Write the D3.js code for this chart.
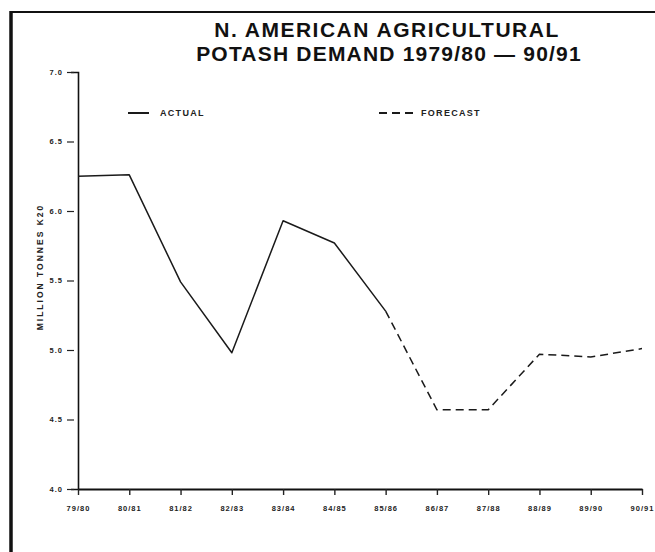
<!DOCTYPE html>
<html>
<head>
<meta charset="utf-8">
<script src="https://cdn.jsdelivr.net/npm/d3@7"></script>
<style>
  body { margin: 0; background: #fff; }
  svg { display: block; font-family: "Liberation Sans", Arial, Helvetica, sans-serif; }
</style>
</head>
<body>
<div id="chart"></div>
<script>
// crop years along the bottom
const years = ['79/80', '80/81', '81/82', '82/83', '83/84', '84/85', '85/86', '86/87', '87/88', '88/89', '89/90', '90/91'];
// demand, million tonnes K2O
const demand = [6.25, 6.26, 5.49, 4.98, 5.93, 5.77, 5.28, 4.57, 4.57, 4.97, 4.95, 5.01];
// last year that is actual, the rest is forecast
const lastActual = '85/86';
const yTicks = [4.0, 4.5, 5.0, 5.5, 6.0, 6.5, 7.0];

const width = 655, height = 552;
const margin = { left: 78, right: 13, top: 72, bottom: 63 };

const svg = d3.select('#chart')
  .append('svg')
  .attr('width', width)
  .attr('height', height);

// frame round the figure (only top + left show)
svg.append('line')
  .attr('x1', 11).attr('x2', width).attr('y1', 12).attr('y2', 12)
  .attr('stroke', '#111').attr('stroke-width', 2);
svg.append('line')
  .attr('x1', 11).attr('x2', 11).attr('y1', 11).attr('y2', height)
  .attr('stroke', '#111').attr('stroke-width', 3.5);

// title
const title = svg.append('text')
  .attr('text-anchor', 'middle')
  .attr('font-weight', 'bold')
  .attr('font-size', 21)
  .attr('fill', '#111');
title.append('tspan').attr('x', 387).attr('y', 37).attr('letter-spacing', 1.5).text('N. AMERICAN AGRICULTURAL');
title.append('tspan').attr('x', 389).attr('y', 61).attr('letter-spacing', 1.2).text('POTASH DEMAND 1979/80 \u2014 90/91');

// scales
const x = d3.scalePoint()
  .domain(years)
  .range([margin.left, width - margin.right]);
const y = d3.scaleLinear()
  .domain([4, 7])
  .range([height - margin.bottom, margin.top]);

// y axis
const yAxis = svg.append('g')
  .attr('transform', `translate(${margin.left},0)`)
  .call(d3.axisLeft(y).tickValues(yTicks).tickSize(7).tickPadding(8).tickFormat(d3.format('.1f')));
yAxis.select('.domain').attr('stroke', '#111').attr('stroke-width', 1.6);
yAxis.selectAll('.tick line').attr('x1', -4).attr('x2', -11).attr('stroke', '#222').attr('stroke-width', 1.2);
yAxis.selectAll('.tick text')
  .attr('font-size', 7.5).attr('font-weight', 'bold').attr('fill', '#222')
  .attr('letter-spacing', 1)
  .attr('font-family', '"Liberation Sans", Arial, sans-serif');

// x axis
const xAxis = svg.append('g')
  .attr('transform', `translate(0,${y(4)})`)
  .call(d3.axisBottom(x).tickSize(6).tickPadding(11).tickSizeOuter(0));
xAxis.select('.domain').attr('stroke', '#111').attr('stroke-width', 2);
xAxis.selectAll('.tick line').attr('stroke', '#222').attr('stroke-width', 1.4);
xAxis.selectAll('.tick text')
  .attr('font-size', 7.5).attr('font-weight', 'bold').attr('fill', '#222')
  .attr('letter-spacing', 1)
  .attr('font-family', '"Liberation Sans", Arial, sans-serif');

// y axis label
svg.append('text')
  .attr('transform', 'translate(43,267) rotate(-90)')
  .attr('text-anchor', 'middle')
  .attr('font-size', 8.5)
  .attr('font-weight', 'bold')
  .attr('letter-spacing', 2)
  .attr('fill', '#222')
  .text('MILLION TONNES K20');

// data lines
const pts = years.map((d, i) => ({ year: d, v: demand[i] }));
const cut = years.indexOf(lastActual);
const line = d3.line().x(d => x(d.year)).y(d => y(d.v));

svg.append('path')
  .datum(pts.slice(0, cut + 1))
  .attr('d', line)
  .attr('fill', 'none')
  .attr('stroke', '#1a1a1a')
  .attr('stroke-width', 1.5)
  .attr('stroke-linejoin', 'round');

svg.append('path')
  .datum(pts.slice(cut))
  .attr('d', line)
  .attr('fill', 'none')
  .attr('stroke', '#1a1a1a')
  .attr('stroke-width', 1.5)
  .attr('stroke-dasharray', '8,5');

// legend
const legend = svg.append('g')
  .attr('font-size', 9)
  .attr('font-weight', 'bold')
  .attr('letter-spacing', 1.3)
  .attr('fill', '#222');
legend.append('line')
  .attr('x1', 128).attr('x2', 149).attr('y1', 113).attr('y2', 113)
  .attr('stroke', '#1a1a1a').attr('stroke-width', 2);
legend.append('text').attr('x', 160).attr('y', 116).text('ACTUAL');
legend.append('line')
  .attr('x1', 379).attr('x2', 414).attr('y1', 113).attr('y2', 113)
  .attr('stroke', '#1a1a1a').attr('stroke-width', 2)
  .attr('stroke-dasharray', '8,5');
legend.append('text').attr('x', 421).attr('y', 116).text('FORECAST');
</script>
</body>
</html>
